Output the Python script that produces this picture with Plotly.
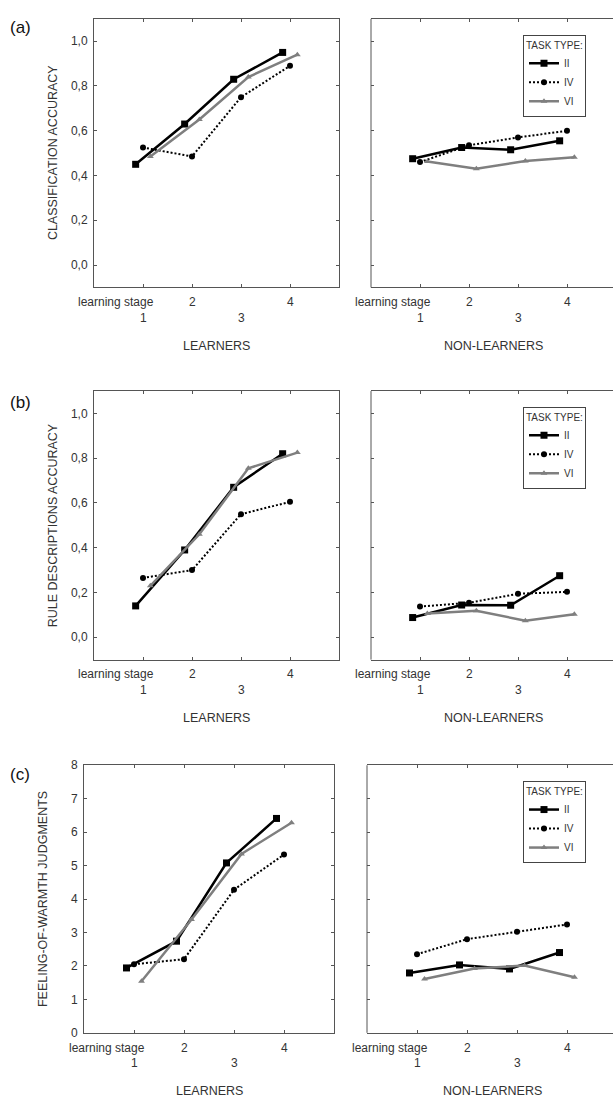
import plotly.graph_objects as go

# ---------------- data ----------------
stages = [1, 2, 3, 4]
stage_row1 = ["2", "4"]
stage_row1_x = [2, 4]
stage_row2 = ["1", "3"]
stage_row2_x = [1, 3]
series_names = ["II", "IV", "VI"]
series_offsets = [-0.15, 0.0, 0.15]

# (a) classification accuracy
a_learn_II = [0.45, 0.63, 0.83, 0.95]
a_learn_IV = [0.525, 0.485, 0.75, 0.89]
a_learn_VI = [0.485, 0.65, 0.84, 0.94]
a_non_II = [0.475, 0.525, 0.515, 0.555]
a_non_IV = [0.46, 0.535, 0.57, 0.60]
a_non_VI = [0.463, 0.43, 0.465, 0.482]

# (b) rule descriptions accuracy
b_learn_II = [0.14, 0.39, 0.67, 0.82]
b_learn_IV = [0.265, 0.30, 0.55, 0.605]
b_learn_VI = [0.23, 0.46, 0.755, 0.825]
b_non_II = [0.088, 0.144, 0.143, 0.275]
b_non_IV = [0.137, 0.154, 0.194, 0.203]
b_non_VI = [0.106, 0.118, 0.074, 0.103]

# (c) feeling-of-warmth judgments
c_learn_II = [1.94, 2.74, 5.08, 6.41]
c_learn_IV = [2.05, 2.20, 4.28, 5.33]
c_learn_VI = [1.54, 3.39, 5.35, 6.28]
c_non_II = [1.79, 2.03, 1.91, 2.40]
c_non_IV = [2.35, 2.80, 3.02, 3.24]
c_non_VI = [1.61, 1.92, 2.01, 1.66]

panel_letters = ["(a)", "(b)", "(c)"]
y_titles = ["CLASSIFICATION ACCURACY", "RULE DESCRIPTIONS ACCURACY",
            "FEELING-OF-WARMTH JUDGMENTS"]
group_titles = ["LEARNERS", "NON-LEARNERS"]
legend_title = "TASK TYPE:"

# ---------------- layout constants ----------------
W, H = 613, 1104
TEXT = "#333333"
AXIS = "#555555"
FONT = "Liberation Sans, Arial, sans-serif"

def px_x(p):
    return p / W

def px_y(p):
    return 1 - p / H

# pixel boxes (left, right, top, bottom) for each panel
panels = [
    dict(L=(94, 339), R=(371, 616), top=12, bot=284,
         yrange=[-0.1, 1.1], ytick=[0, 0.2, 0.4, 0.6, 0.8, 1.0], fmt=".1f",
         data=[(a_learn_II, a_learn_IV, a_learn_VI), (a_non_II, a_non_IV, a_non_VI)]),
    dict(L=(94, 339), R=(371, 616), top=389, bot=661,
         yrange=[-0.1, 1.1], ytick=[0, 0.2, 0.4, 0.6, 0.8, 1.0], fmt=".1f",
         data=[(b_learn_II, b_learn_IV, b_learn_VI), (b_non_II, b_non_IV, b_non_VI)]),
    dict(L=(84, 334), R=(367, 617), top=768, bot=1039,
         yrange=[0, 8], ytick=[0, 1, 2, 3, 4, 5, 6, 7, 8], fmt="d",
         data=[(c_learn_II, c_learn_IV, c_learn_VI), (c_non_II, c_non_IV, c_non_VI)]),
]

styles = [
    dict(line=dict(color="#000000", width=2.5), marker=dict(symbol="square", size=7, color="#000000")),
    dict(line=dict(color="#000000", width=2, dash="2px,2px"), marker=dict(symbol="circle", size=6, color="#000000")),
    dict(line=dict(color="#7f7f7f", width=2.5), marker=dict(symbol="triangle-up", size=6, color="#7f7f7f")),
]

fig = go.Figure()
layout = dict(
    width=W, height=H, margin=dict(l=0, r=0, t=0, b=0),
    paper_bgcolor="white", plot_bgcolor="white",
    separators=",.", showlegend=True,
    font=dict(family=FONT, color=TEXT, size=12),
)
annotations = []
shapes = []

ax_i = 0
for pi, p in enumerate(panels):
    for side in range(2):
        ax_i += 1
        xa = "xaxis" if ax_i == 1 else f"xaxis{ax_i}"
        ya = "yaxis" if ax_i == 1 else f"yaxis{ax_i}"
        xr = "x" if ax_i == 1 else f"x{ax_i}"
        yr = "y" if ax_i == 1 else f"y{ax_i}"
        lpx, rpx = p["L"] if side == 0 else p["R"]
        unit = (rpx - lpx) / 5.0
        if rpx > W:
            xmax = (W - lpx) / unit
            dom_r = 1.0
        else:
            xmax = 5.0
            dom_r = px_x(rpx)
        layout[xa] = dict(
            domain=[px_x(lpx), dom_r], range=[0, xmax], anchor=yr,
            tickvals=stages, showticklabels=False, ticks="inside", ticklen=3,
            tickcolor=AXIS, showline=True, linecolor=AXIS, linewidth=1,
            mirror="ticks", showgrid=False, zeroline=False, fixedrange=True,
        )
        layout[ya] = dict(
            domain=[px_y(p["bot"]), px_y(p["top"])], range=p["yrange"], anchor=xr,
            tickvals=p["ytick"], tickformat=p["fmt"], showticklabels=(side == 0),
            ticks="inside", ticklen=3, tickcolor=AXIS,
            showline=(side == 0), linecolor=AXIS, linewidth=1,
            mirror=("ticks" if side == 0 else False),
            showgrid=False, zeroline=False, fixedrange=True,
            tickfont=dict(size=12, color=TEXT), ticklabelstandoff=3,
        )
        if side == 1:
            # left frame edge of the right-hand panel (its right edge is cut off)
            shapes.append(dict(type="line", xref=f"{xr} domain", yref=f"{yr} domain",
                               x0=0, x1=0, y0=0, y1=1,
                               line=dict(color=AXIS, width=1), layer="above"))
        legend_name = None
        if side == 1:
            legend_name = "legend" if pi == 0 else f"legend{pi + 1}"
        for si, name in enumerate(series_names):
            yv = p["data"][side][si]
            xv = [s + series_offsets[si] for s in stages]
            tr = go.Scatter(
                x=xv, y=yv, mode="lines+markers", name=name,
                line=styles[si]["line"], marker=styles[si]["marker"],
                xaxis=xr, yaxis=yr, showlegend=(side == 1),
                cliponaxis=False, hoverinfo="skip",
            )
            if legend_name:
                tr.update(legend=legend_name)
            fig.add_trace(tr)
        # x tick labels (staggered), as annotations
        for lab, xv in zip(stage_row1, stage_row1_x):
            annotations.append(dict(x=xv, y=px_y(p["bot"] + 15), xref=xr, yref="paper",
                                    text=lab, showarrow=False, xanchor="center",
                                    yanchor="middle", font=dict(size=12, color=TEXT)))
        annotations.append(dict(x=0.45, y=px_y(p["bot"] + 15), xref=xr, yref="paper",
                                text="learning stage", showarrow=False, xanchor="center",
                                yanchor="middle", font=dict(size=12, color=TEXT)))
        for lab, xv in zip(stage_row2, stage_row2_x):
            annotations.append(dict(x=xv, y=px_y(p["bot"] + 31), xref=xr, yref="paper",
                                    text=lab, showarrow=False, xanchor="center",
                                    yanchor="middle", font=dict(size=12, color=TEXT)))
        annotations.append(dict(x=2.5, y=px_y(p["bot"] + 59), xref=xr, yref="paper",
                                text=group_titles[side], showarrow=False, xanchor="center",
                                yanchor="middle", font=dict(size=12.5, color=TEXT)))
    # y title
    lpx = p["L"][0]
    annotations.append(dict(x=px_x(lpx - 41), y=px_y((p["top"] + p["bot"]) / 2),
                            xref="paper", yref="paper", text=y_titles[pi], textangle=-90,
                            showarrow=False, xanchor="center", yanchor="middle",
                            font=dict(size=12.5, color=TEXT)))
    # panel letter
    letter_y = [21, 401, 777][pi]
    annotations.append(dict(x=px_x(8), y=px_y(letter_y), xref="paper", yref="paper",
                            text=panel_letters[pi], showarrow=False, xanchor="left",
                            yanchor="middle", font=dict(size=17, color="#111111")))
    # legend
    lname = "legend" if pi == 0 else f"legend{pi + 1}"
    layout[lname] = dict(
        x=px_x(523), y=px_y(p["top"] + 16), xanchor="left", yanchor="top",
        xref="paper", yref="paper",
        bgcolor="white", bordercolor="#444444", borderwidth=1,
        font=dict(size=10, color=TEXT), itemwidth=30,
        title=dict(text=legend_title, font=dict(size=10, color=TEXT)),
        tracegroupgap=0,
    )

layout["annotations"] = annotations
layout["shapes"] = shapes
fig.update_layout(**layout)
fig.write_html(
    "out.html",
    config={"displayModeBar": False, "staticPlot": True},
    post_script="document.body.style.margin='0';document.body.style.overflow='hidden';",
)
